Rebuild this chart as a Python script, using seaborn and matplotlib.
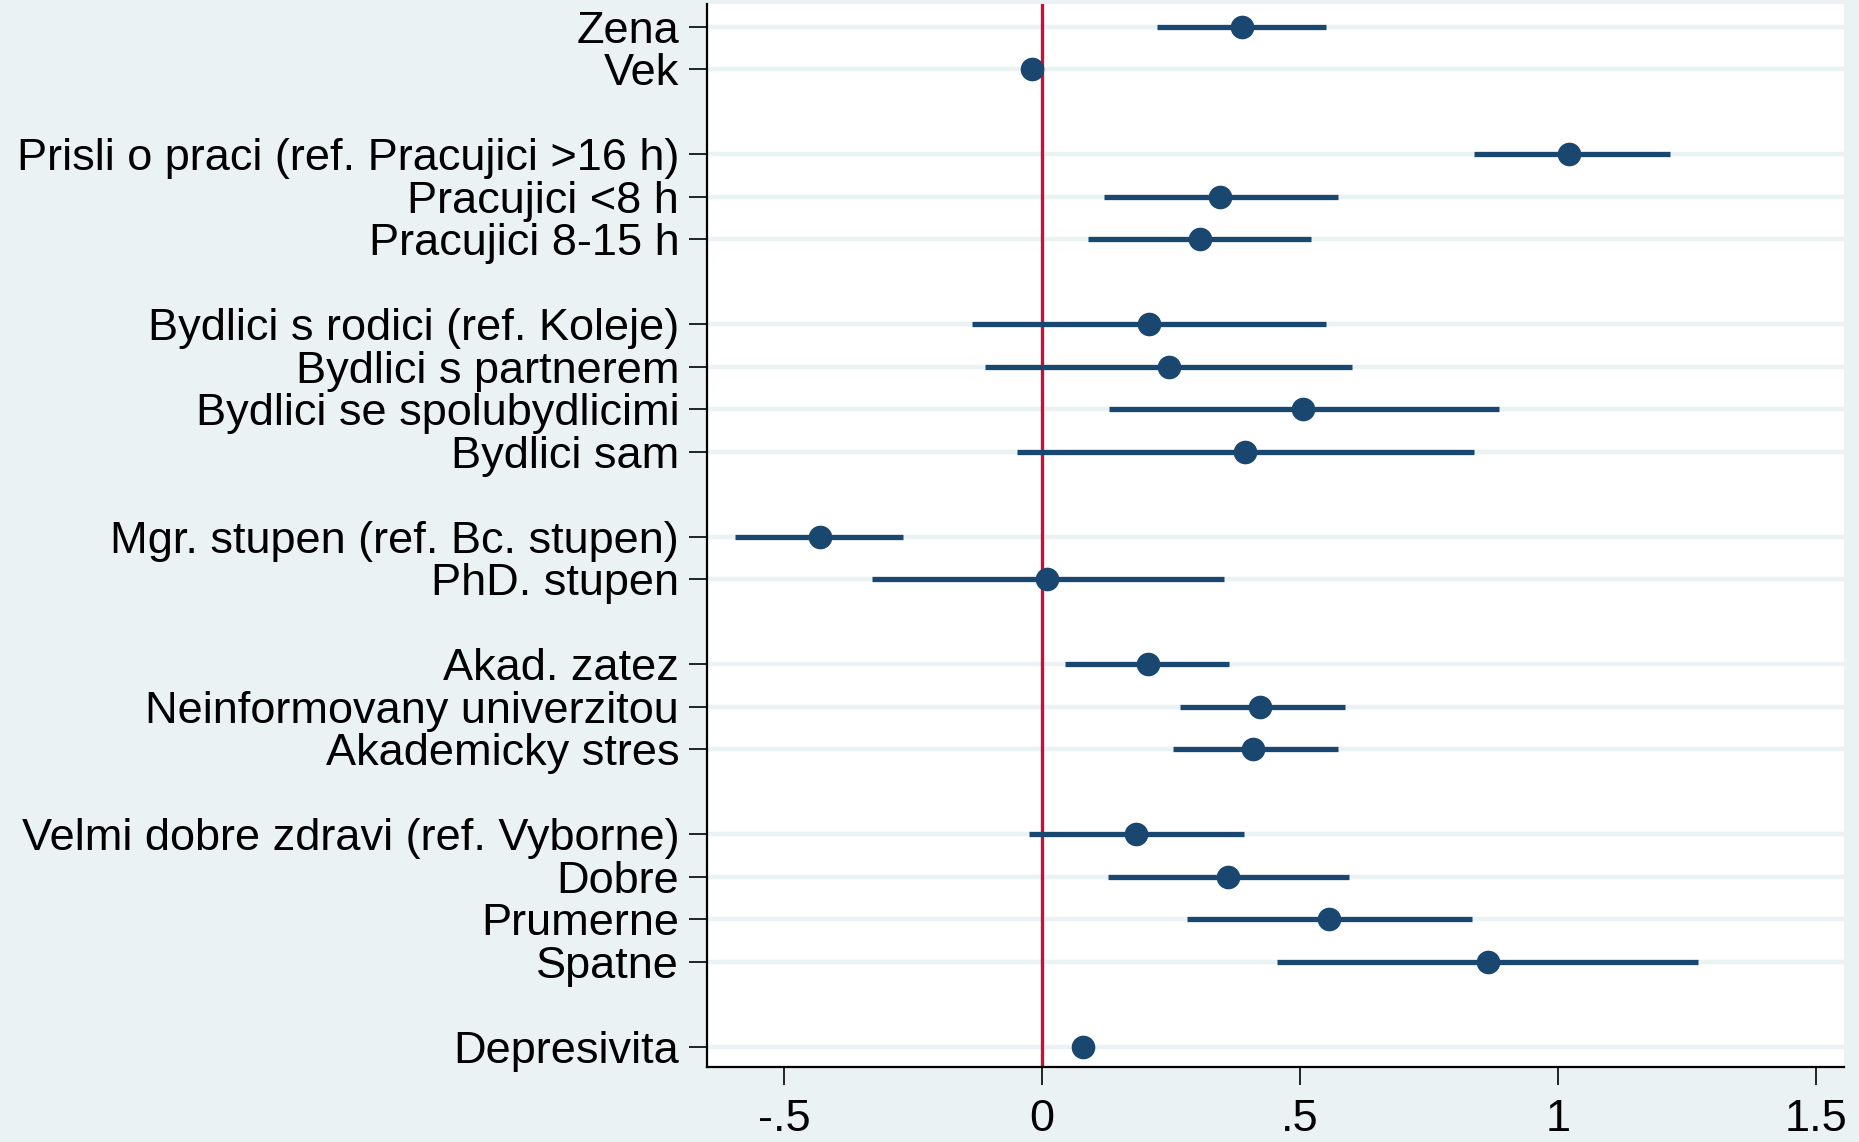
import matplotlib
matplotlib.use("Agg")
import matplotlib.pyplot as plt
import seaborn as sns
import pandas as pd
import numpy as np

# ---- data ----
groups = [
    ["Zena", "Vek"],
    ["Prisli o praci (ref. Pracujici >16 h)", "Pracujici <8 h", "Pracujici 8-15 h"],
    ["Bydlici s rodici (ref. Koleje)", "Bydlici s partnerem",
     "Bydlici se spolubydlicimi", "Bydlici sam"],
    ["Mgr. stupen (ref. Bc. stupen)", "PhD. stupen"],
    ["Akad. zatez", "Neinformovany univerzitou", "Akademicky stres"],
    ["Velmi dobre zdravi (ref. Vyborne)", "Dobre", "Prumerne", "Spatne"],
    ["Depresivita"],
]
coef = [0.387, -0.019,
        1.021, 0.345, 0.306,
        0.207, 0.246, 0.506, 0.393,
        -0.430, 0.009,
        0.205, 0.423, 0.409,
        0.182, 0.361, 0.557, 0.865,
        0.079]
ci_low = [0.223, -0.025,
          0.837, 0.120, 0.090,
          -0.136, -0.110, 0.129, -0.048,
          -0.594, -0.329,
          0.044, 0.267, 0.253,
          -0.025, 0.127, 0.281, 0.455,
          0.073]
ci_high = [0.550, -0.013,
           1.217, 0.573, 0.522,
           0.550, 0.600, 0.886, 0.837,
           -0.269, 0.352,
           0.363, 0.587, 0.573,
           0.391, 0.594, 0.833, 1.272,
           0.085]
xticks = [-0.5, 0, 0.5, 1, 1.5]
xticklabels = ["-.5", "0", ".5", "1", "1.5"]

# ---- layout positions (one blank row between groups) ----
labels, pos = [], []
p = 0
for g in groups:
    for lab in g:
        labels.append(lab)
        pos.append(p)
        p += 1
    p += 1

df = pd.DataFrame({"label": labels, "pos": pos, "coef": coef,
                   "lo": ci_low, "hi": ci_high})

sns.set_theme(style="white")
plt.rcParams["font.family"] = ["Liberation Sans", "DejaVu Sans"]

BG = "#eaf2f3"
NAVY = "#1a476f"

fig = plt.figure(figsize=(18.59, 11.42), dpi=100, facecolor=BG)
ax = fig.add_axes([707 / 1859, 1 - 1067 / 1142, (1844 - 707) / 1859, (1067 - 4) / 1142])
ax.set_facecolor("white")

# grid lines at label rows
for y in df["pos"]:
    ax.axhline(y, color=BG, lw=3.2, zorder=0)

ax.axvline(0, color="#c8103a", lw=2.4, zorder=1)

ax.hlines(df["pos"], df["lo"], df["hi"], color=NAVY, lw=3.8, zorder=2)
sns.scatterplot(data=df, x="coef", y="pos", ax=ax, color=NAVY, s=290,
                edgecolor=NAVY, linewidth=0, zorder=3, legend=False)

ax.set_xlim(-0.649, 1.554)
ax.set_ylim(24.48, -0.53)
ax.set_yticks(df["pos"])
ax.set_yticklabels(df["label"])
ax.set_xticks(xticks)
ax.set_xticklabels(xticklabels)
ax.set_xlabel("")
ax.set_ylabel("")

for s in ["top", "right"]:
    ax.spines[s].set_visible(False)
for s in ["left", "bottom"]:
    ax.spines[s].set_visible(True)
    ax.spines[s].set_color("black")
    ax.spines[s].set_linewidth(1.6)

ax.tick_params(axis="both", which="major", length=13, width=1.2, color="black",
               labelsize=32.5, labelcolor="black", left=True, bottom=True)
ax.tick_params(axis="y", pad=7)
ax.tick_params(axis="x", pad=10)
ax.grid(False)

fig.savefig("out.png", dpi=100, facecolor=BG)
